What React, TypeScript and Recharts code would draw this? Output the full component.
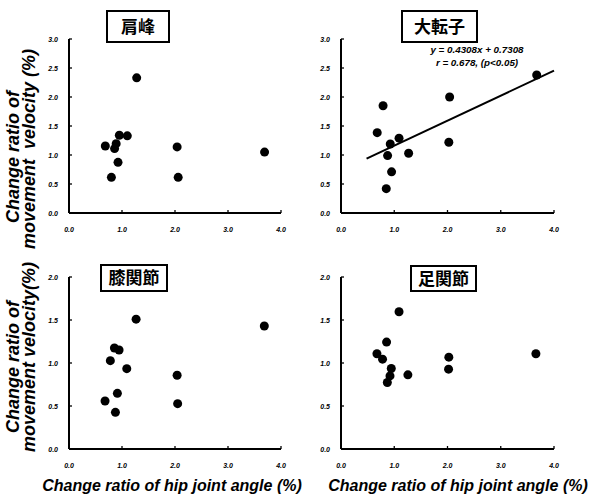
import React from "react";
import { ScatterChart, Scatter, XAxis, YAxis, ReferenceLine } from "recharts";

// hip joint angle change ratio (x) vs movement velocity change ratio (y), per marker
const xTicks = [0, 1, 2, 3, 4];
const yTicksTop = [0, 0.5, 1, 1.5, 2, 2.5, 3];
const yTicksBottom = [0, 0.5, 1, 1.5, 2];

const acromionX = [0.685, 0.8, 0.89, 0.86, 0.925, 0.95, 1.1, 1.277, 2.04, 2.06, 3.69];
const acromionY = [1.155, 0.615, 1.195, 1.11, 0.874, 1.34, 1.33, 2.33, 1.14, 0.615, 1.05];

const trochanterX = [0.68, 0.79, 0.925, 0.875, 0.85, 0.95, 1.09, 1.27, 2.04, 2.025, 3.675];
const trochanterY = [1.385, 1.85, 1.19, 0.99, 0.42, 0.71, 1.29, 1.03, 2.0, 1.22, 2.38];

const kneeX = [0.68, 0.78, 0.857, 0.945, 0.876, 0.913, 1.09, 1.266, 2.04, 2.05, 3.685];
const kneeY = [0.558, 1.027, 1.174, 1.151, 0.426, 0.647, 0.934, 1.51, 0.857, 0.527, 1.43];

const ankleX = [0.675, 0.78, 0.856, 0.944, 0.92, 0.87, 1.09, 1.256, 2.025, 2.02, 3.66];
const ankleY = [1.107, 1.045, 1.243, 0.936, 0.85, 0.773, 1.596, 0.862, 1.068, 0.928, 1.107];

// fitted line for 大転子: y = 0.4308x + 0.7308
const fitX = [0.48, 4.0];
const fitY = [0.937, 2.454];

const font = "'Liberation Sans', Arial, sans-serif";

const XTick = (p: any) => {
  const { x, y, payload } = p;
  return (
    <g>
      <line x1={x} x2={x} y1={y} y2={y - 3} stroke="#000" strokeWidth={1.3} />
      <text x={x} y={y + 18.5} textAnchor="middle" fontSize={7} fontWeight="bold" fontStyle="italic" fontFamily={font} fill="#000">
        {payload.value.toFixed(1)}
      </text>
    </g>
  );
};

const YTick = (p: any) => {
  const { x, y, payload } = p;
  return (
    <g>
      <line x1={x} x2={x + 3} y1={y} y2={y} stroke="#000" strokeWidth={1.3} />
      <text x={x - 11} y={y + 2.5} textAnchor="end" fontSize={7} fontWeight="bold" fontStyle="italic" fontFamily={font} fill="#000">
        {payload.value.toFixed(1)}
      </text>
    </g>
  );
};

const Dot = (p: any) => <circle cx={p.cx} cy={p.cy} r={4.5} fill="#000" />;

type PanelProps = {
  left: number;
  top: number;
  xs: number[];
  ys: number[];
  yMax: number;
  yTicks: number[];
  ml: number;
  mr: number;
  mt: number;
  mb: number;
  fit?: boolean;
};

const Panel = ({ left, top, xs, ys, yMax, yTicks, ml, mr, mt, mb, fit }: PanelProps) => {
  const data = xs.map((x, i) => ({ x, y: ys[i] }));
  return (
    <div style={{ position: "absolute", left, top }}>
      <ScatterChart width={294} height={240} margin={{ top: mt, right: mr, bottom: mb, left: ml }}>
        <XAxis
          type="number"
          dataKey="x"
          domain={[0, 4]}
          ticks={xTicks}
          interval={0}
          height={24}
          axisLine={{ stroke: "#000", strokeWidth: 2 }}
          tickLine={false}
          tickSize={0}
          tickMargin={0}
          tick={(t: any) => <XTick {...t} />}
        />
        <YAxis
          type="number"
          dataKey="y"
          domain={[0, yMax]}
          ticks={yTicks}
          interval={0}
          width={20}
          axisLine={{ stroke: "#000", strokeWidth: 2 }}
          tickLine={false}
          tickSize={0}
          tickMargin={0}
          tick={(t: any) => <YTick {...t} />}
        />
        {fit && (
          <ReferenceLine
            segment={[
              { x: fitX[0], y: fitY[0] },
              { x: fitX[1], y: fitY[1] },
            ]}
            stroke="#000"
            strokeWidth={2}
          />
        )}
        <Scatter data={data} shape={Dot} isAnimationActive={false} />
      </ScatterChart>
    </div>
  );
};

const TitleBox = ({ x, y, w, h, text }: { x: number; y: number; w: number; h: number; text: string }) => (
  <g>
    <rect x={x} y={y} width={w} height={h} fill="#fff" stroke="#000" strokeWidth={2} />
    <text
      x={x + w / 2}
      y={y + h / 2 + 6}
      textAnchor="middle"
      fontSize={17}
      fontWeight="bold"
      fontFamily="'Noto Sans CJK JP', sans-serif"
      fill="#000"
    >
      {text}
    </text>
  </g>
);

const labelStyle = { fontSize: 18, fontWeight: "bold" as const, fontStyle: "italic" as const, fontFamily: font, fill: "#000" };
const xLabelStyle = { fontSize: 16, fontWeight: "bold" as const, fontStyle: "italic" as const, fontFamily: font, fill: "#000" };

export default function App() {
  return (
    <div style={{ position: "absolute", left: 0, top: 0, width: 589, height: 497, background: "#fff", fontFamily: font }}>
      <Panel left={0} top={0} xs={acromionX} ys={acromionY} yMax={3} yTicks={yTicksTop} ml={49} mr={13} mt={39} mb={3} />
      <Panel left={294} top={0} xs={trochanterX} ys={trochanterY} yMax={3} yTicks={yTicksTop} ml={27} mr={34} mt={39} mb={3} fit />
      <Panel left={0} top={240} xs={kneeX} ys={kneeY} yMax={2} yTicks={yTicksBottom} ml={49} mr={13} mt={37} mb={7} />
      <Panel left={294} top={240} xs={ankleX} ys={ankleY} yMax={2} yTicks={yTicksBottom} ml={27} mr={34} mt={37} mb={7} />
      <svg width={589} height={497} style={{ position: "absolute", left: 0, top: 0, pointerEvents: "none" }}>
        <TitleBox x={107} y={11} w={62} h={31} text="肩峰" />
        <TitleBox x={402} y={11} w={75} h={31} text="大転子" />
        <TitleBox x={101} y={265} w={66} h={26} text="膝関節" />
        <TitleBox x={411} y={266} w={65} h={25} text="足関節" />

        <text x={477} y={53} textAnchor="middle" fontSize={9.8} fontWeight="bold" fontStyle="italic" fontFamily={font}>
          y = 0.4308x + 0.7308
        </text>
        <text x={477} y={66} textAnchor="middle" fontSize={9.8} fontWeight="bold" fontStyle="italic" fontFamily={font}>
          r = 0.678, (p&lt;0.05)
        </text>

        <text transform="translate(19,157) rotate(-90)" textAnchor="middle" style={labelStyle}>
          Change ratio of
        </text>
        <text transform="translate(35,149) rotate(-90)" textAnchor="middle" style={labelStyle} xmlSpace="preserve">
          movement  velocity (%)
        </text>
        <text transform="translate(19,367) rotate(-90)" textAnchor="middle" style={labelStyle}>
          Change ratio of
        </text>
        <text transform="translate(35,357) rotate(-90)" textAnchor="middle" style={labelStyle}>
          movement velocity(%)
        </text>

        <text x={172} y={491} textAnchor="middle" style={xLabelStyle}>
          Change ratio of hip joint angle (%)
        </text>
        <text x={458} y={491} textAnchor="middle" style={xLabelStyle}>
          Change ratio of hip joint angle (%)
        </text>
      </svg>
    </div>
  );
}
